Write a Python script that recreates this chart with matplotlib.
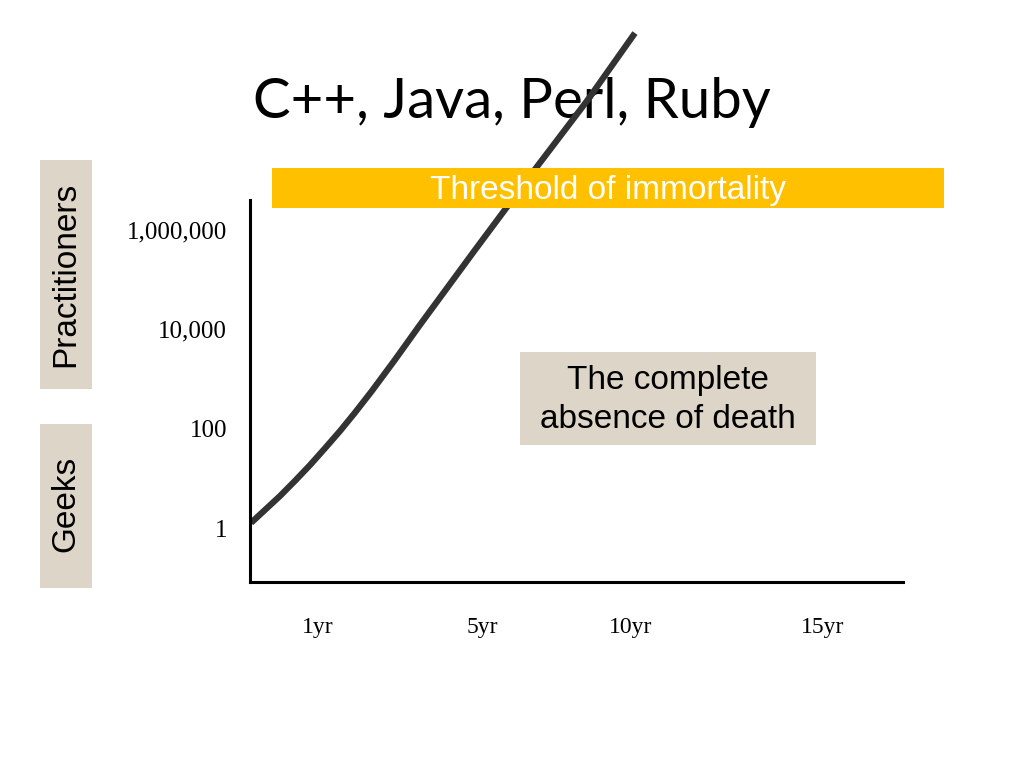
import matplotlib

matplotlib.use("Agg")
import matplotlib.pyplot as plt
from matplotlib.patches import Rectangle

# curve (years since birth, practitioners)
years = [-1.10, -0.28, 0.14, 0.57, 0.99, 1.42, 1.84, 2.32, 2.97, 3.68, 5.24, 6.99, 8.41, 9.77]
practitioners = [1.3, 4.5, 9.0, 18.8, 40.6, 91, 211, 577, 2420, 12200, 391000, 1.82e7, 3.84e8, 8.9e9]

ytick_values = [1, 100, 10_000, 1_000_000]
ytick_labels = ["1", "100", "10,000", "1,000,000"]
xtick_values = [0.79, 5.46, 9.65, 15.09]
xtick_labels = ["1yr", "5yr", "10yr", "15yr"]

title = "C++, Java, Perl, Ruby"
banner_text = "Threshold of immortality"
note_text = "The complete\nabsence of death"

W, H = 1024, 768
BOX_GREY = "#DDD5C8"
GOLD = "#FFC000"


def fx(px):
    return px / W


def fy(py):
    return 1 - py / H


def px_rect(fig, x0, y0, x1, y1, color, zorder):
    rect = Rectangle((fx(x0), fy(y1)), fx(x1) - fx(x0), fy(y0) - fy(y1),
                     transform=fig.transFigure, facecolor=color, edgecolor="none",
                     zorder=zorder)
    fig.add_artist(rect)


fig = plt.figure(figsize=(W / 100, H / 100), dpi=100)
fig.patch.set_facecolor("white")

ax = fig.add_axes([fx(250), fy(582), fx(903) - fx(250), fy(200) - fy(582)])
ax.patch.set_visible(False)
ax.set_yscale("log")
ax.set_xlim(-1.13, 17.36)
ax.set_ylim(0.0843, 3.95e6)

ax.plot(years, practitioners, color="#333333", lw=4.5, clip_on=False,
        solid_capstyle="butt", solid_joinstyle="round")

for side in ("top", "right"):
    ax.spines[side].set_visible(False)
for side in ("left", "bottom"):
    ax.spines[side].set_linewidth(2.2)
    ax.spines[side].set_color("black")

ax.set_yticks(ytick_values)
ax.set_yticklabels(ytick_labels)
ax.yaxis.set_minor_locator(matplotlib.ticker.NullLocator())
ax.set_xticks(xtick_values)
ax.set_xticklabels(xtick_labels)
ax.tick_params(axis="y", length=0, pad=16.5, labelsize=18)
ax.tick_params(axis="x", length=0, pad=25, labelsize=17)
for lab in ax.get_xticklabels() + ax.get_yticklabels():
    lab.set_family("Liberation Serif")

# title sits under the curve, the banner sits over it
fig.text(0.5, fy(118), title, ha="center", va="baseline", fontsize=40.5,
         family="Lato", zorder=-1)

px_rect(fig, 272, 168, 944, 208, GOLD, 5)
fig.text(fx(608), fy(190), banner_text, ha="center", va="center", fontsize=24,
         color="white", family="Liberation Sans", zorder=6)

px_rect(fig, 520, 352, 816, 445, BOX_GREY, 5)
fig.text(fx(668), fy(400), note_text, ha="center", va="center", fontsize=24,
         family="Liberation Sans", linespacing=1.35, zorder=6)

px_rect(fig, 40, 160, 92, 389, BOX_GREY, 5)
fig.text(fx(66), fy(274), "Practitioners", ha="center", va="center", rotation=90,
         fontsize=24, family="Liberation Sans", zorder=6)

px_rect(fig, 40, 424, 92, 588, BOX_GREY, 5)
fig.text(fx(66), fy(504), "Geeks", ha="center", va="center", rotation=90,
         fontsize=24, family="Liberation Sans", zorder=6)

fig.savefig("out.png", dpi=100)
